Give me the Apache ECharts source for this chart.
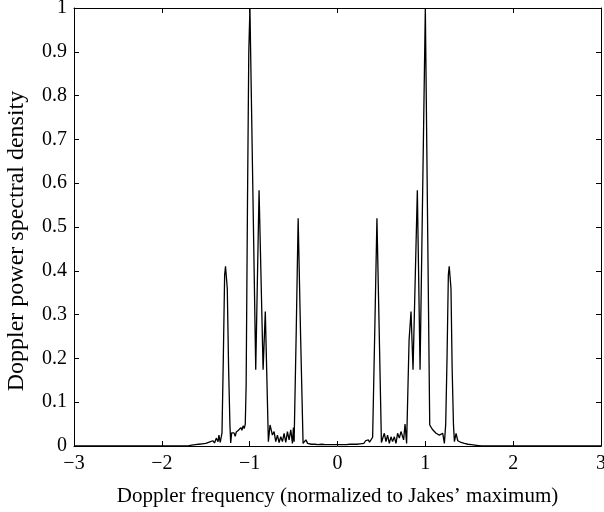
<!DOCTYPE html>
<html>
<head>
<meta charset="utf-8">
<script src="https://cdn.jsdelivr.net/npm/echarts@6/dist/echarts.min.js"></script>
<style>
    html, body { margin: 0; padding: 0; background: #fff; }
    #chart { width: 604px; height: 512px; }
</style>
</head>
<body>
<div id="chart"></div>
<script>
// Doppler PSD: [frequency, density]
var leftTail = [
    [-3, 0], [-1.70, 0], [-1.66, 0.002], [-1.64, 0.001], [-1.62, 0.003], [-1.60, 0.002],
    [-1.58, 0.004], [-1.56, 0.002], [-1.54, 0.005], [-1.52, 0.003], [-1.50, 0.006],
    [-1.48, 0.004], [-1.46, 0.009], [-1.44, 0.005], [-1.42, 0.012], [-1.40, 0.007],
    [-1.38, 0.018], [-1.36, 0.010], [-1.35, 0.025], [-1.335, 0.008]
];
var leftCluster = [
    [-1.315, 0.03], [-1.30, 0.20], [-1.285, 0.39], [-1.275, 0.41], [-1.265, 0.41],
    [-1.255, 0.36], [-1.24, 0.18], [-1.225, 0.05], [-1.216, 0.007], [-1.205, 0.03],
    [-1.19, 0.026], [-1.178, 0.03], [-1.165, 0.022], [-1.152, 0.032], [-1.14, 0.03],
    [-1.128, 0.036], [-1.115, 0.033], [-1.10, 0.042], [-1.088, 0.036], [-1.075, 0.046],
    [-1.062, 0.04], [-1.05, 0.05], [-1.04, 0.14], [-1.025, 0.55], [-1.01, 0.90],
    [-0.997, 1.0], [-0.931, 0.174], [-0.893, 0.584], [-0.847, 0.174], [-0.822, 0.307],
    [-0.787, 0.01]
];
var leftMid = [
    [-0.768, 0.048], [-0.741, 0.025], [-0.722, 0.033], [-0.703, 0.01], [-0.684, 0.025],
    [-0.665, 0.008], [-0.646, 0.021], [-0.627, 0.01], [-0.608, 0.029], [-0.589, 0.008],
    [-0.57, 0.033], [-0.551, 0.014], [-0.532, 0.037], [-0.513, 0.006], [-0.502, 0.042],
    [-0.494, 0.01], [-0.47, 0.26], [-0.448, 0.52], [-0.42, 0.25], [-0.392, 0.006],
    [-0.375, 0.004], [-0.36, 0.014]
];
var centre = [
    [-0.34, 0.006], [-0.32, 0.009], [-0.30, 0.004], [-0.28, 0.008], [-0.26, 0.004],
    [-0.24, 0.007], [-0.22, 0.003], [-0.20, 0.007], [-0.18, 0.004], [-0.16, 0.006],
    [-0.14, 0.003], [-0.12, 0.006], [-0.10, 0.003], [-0.08, 0.005], [-0.06, 0.003],
    [-0.04, 0.005], [-0.02, 0.003], [0, 0.005], [0.02, 0.003], [0.04, 0.005],
    [0.06, 0.003], [0.08, 0.006], [0.10, 0.003], [0.12, 0.006], [0.14, 0.004],
    [0.16, 0.006], [0.18, 0.004], [0.20, 0.007], [0.22, 0.004], [0.24, 0.008],
    [0.26, 0.005], [0.28, 0.009], [0.30, 0.006], [0.32, 0.012], [0.335, 0.008],
    [0.35, 0.014], [0.365, 0.009], [0.385, 0.012]
];
var rightMid = [
    [0.40, 0.02], [0.425, 0.27], [0.449, 0.52], [0.475, 0.26], [0.50, 0.008],
    [0.515, 0.01], [0.533, 0.029], [0.552, 0.01], [0.57, 0.025], [0.59, 0.006],
    [0.609, 0.021], [0.627, 0.01], [0.647, 0.021], [0.666, 0.006], [0.684, 0.029],
    [0.704, 0.018], [0.723, 0.033], [0.741, 0.037], [0.753, 0.014], [0.769, 0.05],
    [0.787, 0.006]
];
var rightCluster = [
    [0.80, 0.01], [0.815, 0.242], [0.837, 0.307], [0.86, 0.174], [0.909, 0.584],
    [0.94, 0.174], [1.0, 1.0], [1.05, 0.048], [1.065, 0.044], [1.084, 0.037],
    [1.103, 0.040], [1.122, 0.029], [1.141, 0.033], [1.16, 0.025], [1.179, 0.021],
    [1.198, 0.029], [1.217, 0.006], [1.232, 0.05], [1.247, 0.2], [1.262, 0.39],
    [1.272, 0.41], [1.282, 0.41], [1.292, 0.36], [1.305, 0.18], [1.32, 0.05],
    [1.331, 0.01]
];
var rightTail = [
    [1.35, 0.029], [1.369, 0.012], [1.388, 0.016], [1.407, 0.008], [1.425, 0.012],
    [1.445, 0.006], [1.465, 0.009], [1.485, 0.004], [1.505, 0.007], [1.525, 0.003],
    [1.545, 0.005], [1.565, 0.002], [1.585, 0.004], [1.605, 0.001], [1.625, 0.002],
    [1.64, 0], [3, 0]
];

var psd = [].concat(leftTail, leftCluster, leftMid, centre, rightMid, rightCluster, rightTail);

var serif = 'Liberation Serif';

var chart = echarts.init(document.getElementById('chart'));

var boxLine = { show : true, onZero : false, lineStyle : { color : '#000', width : 1 } };
var boxTick = { show : true, inside : true, length : 5, lineStyle : { color : '#000', width : 1 } };

var option = {
    animation : false,
    backgroundColor : '#fff',
    grid : {
        left : 74,
        right : 3,
        top : 8,
        bottom : 66,
        containLabel : false,
        outerBoundsMode : 'none'
    },
    xAxis : [ {
        type : 'value',
        min : -3,
        max : 3,
        interval : 1,
        position : 'bottom',
        axisLine : boxLine,
        axisTick : boxTick,
        splitLine : { show : false },
        axisLabel : {
            color : '#000',
            fontFamily : serif,
            fontSize : 20,
            margin : 8,
            formatter : function(v) {
                return String(v).replace('-', '\u2212');
            }
        },
        name : 'Doppler frequency (normalized to Jakes\u2019 maximum)',
        nameLocation : 'middle',
        nameGap : 40,
        nameTextStyle : { color : '#000', fontFamily : serif, fontSize : 21 }
    }, {
        type : 'value',
        min : -3,
        max : 3,
        interval : 1,
        position : 'top',
        axisLine : boxLine,
        axisTick : boxTick,
        axisLabel : { show : false },
        splitLine : { show : false }
    } ],
    yAxis : [ {
        type : 'value',
        min : 0,
        max : 1,
        interval : 0.1,
        position : 'left',
        axisLine : boxLine,
        axisTick : boxTick,
        splitLine : { show : false },
        axisLabel : {
            color : '#000',
            fontFamily : serif,
            fontSize : 20,
            margin : 7
        },
        name : 'Doppler power spectral density',
        nameLocation : 'middle',
        nameGap : 45,
        // nudged down a bit, the original label sits below the axis centre
        nameTextStyle : { color : '#000', fontFamily : serif, fontSize : 24, padding : [ 0, 28, 0, 0 ] }
    }, {
        type : 'value',
        min : 0,
        max : 1,
        interval : 0.1,
        position : 'right',
        axisLine : boxLine,
        axisTick : boxTick,
        axisLabel : { show : false },
        splitLine : { show : false }
    } ],
    series : [ {
        type : 'line',
        data : psd,
        showSymbol : false,
        lineStyle : { color : '#000', width : 1.3 },
        clip : true
    } ]
};
chart.setOption(option);
</script>
</body>
</html>
